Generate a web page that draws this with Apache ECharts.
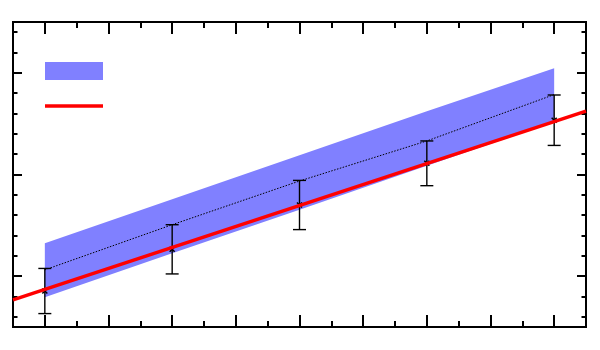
<!DOCTYPE html>
<html>
<head>
<meta charset="utf-8">
<script src="https://cdn.jsdelivr.net/npm/echarts@6/dist/echarts.min.js"></script>
<style>html,body{margin:0;padding:0;background:#fff}#c{width:600px;height:350px}</style>
</head>
<body>
<div id="c"></div>
<script>
// ---- data ----
const xPoints = [0, 2, 4, 6, 8];
const yPoints = [1.27, 3.32, 5.50, 7.55, 9.67];
const yErr = [1.11, 1.21, 1.21, 1.10, 1.24];
const dottedY = [2.31, 4.53, 6.68, 8.65, 10.93];
const bandLower = [0.96, 3.13, 5.27, 7.43, 9.58];
const bandUpper = [3.62, 5.78, 7.95, 10.11, 12.22];
const fitX = [-0.5, 8.5];
const fitY = [0.83, 10.12];
const xMajorTicks = [0, 1, 2, 3, 4, 5, 6, 7, 8];
const xMinorTicks = [0.5, 1.5, 2.5, 3.5, 4.5, 5.5, 6.5, 7.5];
const yMajorTicks = [2, 7, 12];
const yMinorTicks = [0, 1, 3, 4, 5, 6, 8, 9, 10, 11, 13, 14];
const xRange = [-0.5, 8.5];
const yRange = [-0.5, 14.5];

// ---- build ----
function mkAxis(pos, ticks, len, range) {
  return {
    type: 'value', position: pos, min: range[0], max: range[1],
    axisLine: { show: true, onZero: false, lineStyle: { color: '#000', width: 2 } },
    axisTick: { show: true, inside: true, length: len, customValues: ticks, lineStyle: { color: '#000', width: 2 } },
    axisLabel: { show: false },
    splitLine: { show: false }
  };
}
const chart = echarts.init(document.getElementById('c'), null, { renderer: 'canvas' });
const option = {
  animation: false,
  backgroundColor: '#fff',
  grid: { left: 13, top: 22, width: 573, height: 305, containLabel: false },
  xAxis: [
    mkAxis('bottom', xMajorTicks, 12, xRange),
    mkAxis('bottom', xMinorTicks, 6, xRange),
    mkAxis('top', xMajorTicks, 12, xRange),
    mkAxis('top', xMinorTicks, 6, xRange)
  ],
  yAxis: [
    mkAxis('left', yMajorTicks, 9, yRange),
    mkAxis('left', yMinorTicks, 4.5, yRange),
    mkAxis('right', yMajorTicks, 9, yRange),
    mkAxis('right', yMinorTicks, 4.5, yRange)
  ],
  legend: {
    left: 40, top: 57, orient: 'vertical',
    itemWidth: 58, itemHeight: 18, itemGap: 17,
    formatter: function () { return ''; },
    textStyle: { fontSize: 1 },
    selectedMode: false,
    symbolKeepAspect: true,
    data: [
      { name: 'band', icon: 'rect', itemStyle: { color: '#8080ff', opacity: 1, borderWidth: 0 } },
      { name: 'fit', icon: 'path://M0,0H58V3.5H0Z', itemStyle: { color: '#ff0000', opacity: 1, borderWidth: 0 } }
    ]
  },
  series: [
    {
      name: 'band', type: 'custom', silent: true, color: '#8080ff',
      data: xPoints.map((x, i) => [x, bandLower[i], bandUpper[i]]),
      encode: { x: 0, y: [1, 2] },
      renderItem: function (params, api) {
        if (params.dataIndexInside !== 0) return null;
        const n = params.dataInsideLength;
        const up = [], lo = [];
        for (let i = 0; i < n; i++) {
          const x = api.value(0, i);
          up.push(api.coord([x, api.value(2, i)]));
          lo.push(api.coord([x, api.value(1, i)]));
        }
        const pts = up.concat(lo.reverse());
        return { type: 'polygon', shape: { points: pts }, style: { fill: '#8080ff', stroke: null } };
      }
    },
    {
      name: 'dotted', type: 'line', symbol: 'none',
      data: xPoints.map((x, i) => [x, dottedY[i]]),
      lineStyle: { color: '#000', width: 1, type: [1.5, 1.5] }, silent: true
    },
    {
      name: 'fit', type: 'line', symbol: 'none', color: '#ff0000',
      data: fitX.map((x, i) => [x, fitY[i]]),
      lineStyle: { color: '#ff0000', width: 3.5 }, silent: true
    },
    {
      name: 'points', type: 'custom', silent: true,
      data: xPoints.map((x, i) => [x, yPoints[i], yErr[i]]),
      encode: { x: 0, y: 1 },
      renderItem: function (params, api) {
        const x = api.value(0), y = api.value(1), e = api.value(2);
        const p = api.coord([x, y]);
        const t = api.coord([x, y + e]);
        const b = api.coord([x, y - e]);
        const cap = 6.5, m = 2.5;
        const st = { stroke: '#000', lineWidth: 1.4 };
        return {
          type: 'group', children: [
            { type: 'line', shape: { x1: t[0], y1: t[1], x2: b[0], y2: b[1] }, style: st },
            { type: 'line', shape: { x1: t[0] - cap, y1: t[1], x2: t[0] + cap, y2: t[1] }, style: st },
            { type: 'line', shape: { x1: b[0] - cap, y1: b[1], x2: b[0] + cap, y2: b[1] }, style: st },
            { type: 'line', shape: { x1: p[0] - m, y1: p[1] - m, x2: p[0] + m, y2: p[1] + m }, style: { stroke: '#000', lineWidth: 1.5 } },
            { type: 'line', shape: { x1: p[0] - m, y1: p[1] + m, x2: p[0] + m, y2: p[1] - m }, style: { stroke: '#000', lineWidth: 1.5 } }
          ]
        };
      }
    }
  ]
};
chart.setOption(option);
</script>
</body>
</html>
